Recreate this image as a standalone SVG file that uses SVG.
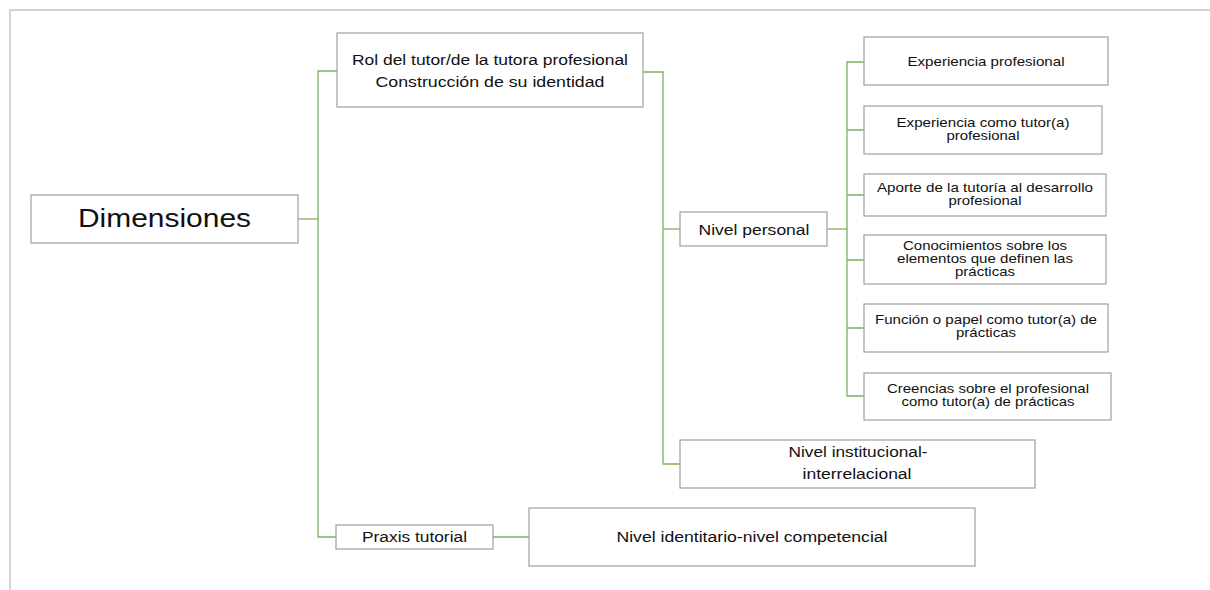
<svg xmlns="http://www.w3.org/2000/svg" width="1210" height="590" viewBox="0 0 1210 590">
<style>
.box{fill:#ffffff;stroke:#a0a0a0;stroke-width:1.2}
.frame{fill:none;stroke:#d2d2d2;stroke-width:1.8}
.conn{fill:none;stroke:#7fb05e;stroke-width:1.3}
text{font-family:"Liberation Sans",Arial,sans-serif;fill:#111111;text-anchor:middle}
.t26{font-size:26px}
.t15{font-size:15.5px}
.t13{font-size:13.3px}
</style>
<rect x="0" y="0" width="1210" height="590" fill="#ffffff"/>
<path class="frame" d="M10,590 V10 H1210"/>
<g id="connectors">
<path class="conn" d="M298,219 H318"/>
<path class="conn" d="M337,71 H318 V537 H336"/>
<path class="conn" d="M493,537 H529"/>
<path class="conn" d="M643,72 H663 V464 H680"/>
<path class="conn" d="M663,229 H680"/>
<path class="conn" d="M827,229 H847"/>
<path class="conn" d="M864,62 H847 V396 H864"/>
<path class="conn" d="M847,130 H864 M847,195 H864 M847,260 H864 M847,328 H864"/>
</g>
<g id="dimensiones">
<rect class="box" x="31" y="195" width="267" height="48"/>
<text class="t26" x="164.5" y="227" textLength="173" lengthAdjust="spacingAndGlyphs">Dimensiones</text>
</g>
<g id="rol">
<rect class="box" x="337" y="33" width="306" height="74"/>
<text class="t15" x="490" y="65" textLength="276" lengthAdjust="spacingAndGlyphs">Rol del tutor/de la tutora profesional</text>
<text class="t15" x="490" y="87" textLength="229" lengthAdjust="spacingAndGlyphs">Construcción de su identidad</text>
</g>
<g id="nivel-personal">
<rect class="box" x="680" y="212" width="147" height="34"/>
<text class="t15" x="754" y="235" textLength="111" lengthAdjust="spacingAndGlyphs">Nivel personal</text>
</g>
<g id="experiencia-profesional">
<rect class="box" x="864" y="37" width="244" height="48"/>
<text class="t13" x="986" y="66" textLength="157" lengthAdjust="spacingAndGlyphs">Experiencia profesional</text>
</g>
<g id="experiencia-tutor">
<rect class="box" x="864" y="106" width="238" height="48"/>
<text class="t13" x="983" y="127" textLength="173" lengthAdjust="spacingAndGlyphs">Experiencia como tutor(a)</text>
<text class="t13" x="983" y="140" textLength="73" lengthAdjust="spacingAndGlyphs">profesional</text>
</g>
<g id="aporte">
<rect class="box" x="864" y="174" width="242" height="42"/>
<text class="t13" x="985" y="192" textLength="216" lengthAdjust="spacingAndGlyphs">Aporte de la tutoría al desarrollo</text>
<text class="t13" x="985" y="205" textLength="73" lengthAdjust="spacingAndGlyphs">profesional</text>
</g>
<g id="conocimientos">
<rect class="box" x="864" y="235" width="242" height="49"/>
<text class="t13" x="985" y="250" textLength="164" lengthAdjust="spacingAndGlyphs">Conocimientos sobre los</text>
<text class="t13" x="985" y="263" textLength="176" lengthAdjust="spacingAndGlyphs">elementos que definen las</text>
<text class="t13" x="985" y="276" textLength="60" lengthAdjust="spacingAndGlyphs">prácticas</text>
</g>
<g id="funcion">
<rect class="box" x="864" y="304" width="244" height="48"/>
<text class="t13" x="986" y="324" textLength="222" lengthAdjust="spacingAndGlyphs">Función o papel como tutor(a) de</text>
<text class="t13" x="986" y="337" textLength="60" lengthAdjust="spacingAndGlyphs">prácticas</text>
</g>
<g id="creencias">
<rect class="box" x="864" y="373" width="247" height="47"/>
<text class="t13" x="988" y="393" textLength="202" lengthAdjust="spacingAndGlyphs">Creencias sobre el profesional</text>
<text class="t13" x="988" y="406" textLength="173" lengthAdjust="spacingAndGlyphs">como tutor(a) de prácticas</text>
</g>
<g id="nivel-institucional">
<rect class="box" x="680" y="440" width="355" height="48"/>
<text class="t15" x="858" y="457" textLength="139" lengthAdjust="spacingAndGlyphs">Nivel institucional-</text>
<text class="t15" x="857" y="479" textLength="109" lengthAdjust="spacingAndGlyphs">interrelacional</text>
</g>
<g id="praxis">
<rect class="box" x="336" y="525" width="157" height="24"/>
<text class="t15" x="414.5" y="542" textLength="105" lengthAdjust="spacingAndGlyphs">Praxis tutorial</text>
</g>
<g id="nivel-identitario">
<rect class="box" x="529" y="508" width="446" height="58"/>
<text class="t15" x="752" y="542" textLength="271" lengthAdjust="spacingAndGlyphs">Nivel identitario-nivel competencial</text>
</g>
</svg>
